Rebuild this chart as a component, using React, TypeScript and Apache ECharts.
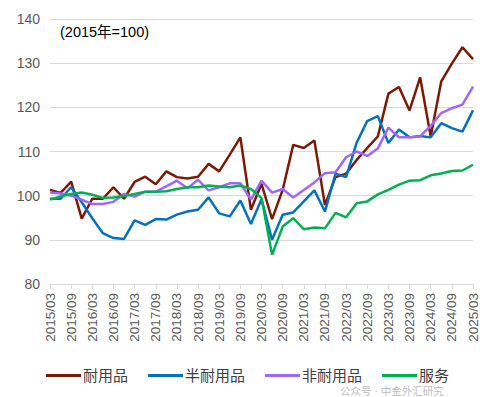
import React, { useEffect, useRef } from "react";
import * as echarts from "echarts";

const quarters: string[] = [];
for (let y = 2015; y <= 2025; y++) {
  for (const m of ["03", "06", "09", "12"]) {
    if (y === 2025 && m !== "03") continue;
    quarters.push(`${y}/${m}`);
  }
}

const durable = [
  101.3, 100.6, 103.2, 94.8, 99.3, 99.3, 101.9, 99.3, 103.1, 104.3, 102.6,
  105.5, 104.2, 103.9, 104.3, 107.2, 105.5, 109.3, 113.2, 96.8, 102.7, 94.7,
  101.3, 111.5, 110.8, 112.5, 97.9, 104.2, 105.0, 108.1, 110.8, 113.4, 123.1,
  124.6, 119.3, 126.8, 113.4, 125.9, 129.9, 133.6, 130.9,
];
const semiDurable = [
  99.3, 99.3, 101.9, 98.5, 94.9, 91.5, 90.4, 90.2, 94.4, 93.4, 94.7, 94.6,
  95.7, 96.4, 96.8, 99.6, 96.0, 95.3, 98.9, 93.6, 99.2, 90.0, 95.7, 96.2, 98.7,
  101.2, 96.4, 105.0, 104.2, 112.0, 116.9, 118.0, 111.9, 115.0, 113.2, 113.5,
  113.2, 116.4, 115.3, 114.5, 119.3,
];
const nonDurable = [
  100.7, 100.5, 100.0, 99.1, 98.1, 98.1, 98.6, 100.4, 99.8, 100.9, 100.9,
  102.1, 103.4, 101.7, 103.6, 101.2, 101.9, 102.8, 102.8, 99.1, 103.4, 100.7,
  101.5, 99.6, 101.3, 103.0, 105.1, 105.3, 108.7, 110.0, 109.0, 110.7, 115.4,
  113.2, 113.2, 113.4, 115.8, 118.7, 119.8, 120.6, 124.7,
];
const services = [
  99.1, 99.8, 100.4, 100.7, 100.2, 99.5, 99.6, 99.9, 100.4, 100.9, 100.9,
  101.0, 101.5, 101.9, 101.9, 102.3, 102.1, 101.9, 102.3, 101.5, 99.5, 86.6,
  93.0, 94.9, 92.4, 92.8, 92.6, 96.1, 95.1, 98.3, 98.7, 100.3, 101.3, 102.5,
  103.4, 103.5, 104.6, 105.0, 105.6, 105.7, 107.0,
];

const seriesNames = ["耐用品", "半耐用品", "非耐用品", "服务"];
const seriesColors = ["#7a1a05", "#0070c0", "#a066ff", "#00b050"];
const titleText = "(2015年=100)";
const watermark = "公众号 · 中金外汇研究";

const FONT = "'Liberation Sans', 'Noto Sans CJK SC', sans-serif";

export default function App() {
  const ref = useRef<HTMLDivElement>(null);
  useEffect(() => {
    if (!ref.current) return;
    const chart = echarts.init(ref.current, undefined, { renderer: "svg" });
    const data = [durable, semiDurable, nonDurable, services];
    chart.setOption({
      animation: false,
      textStyle: { fontFamily: FONT },
      grid: { left: 50, right: 22, top: 19, bottom: 113 },
      graphic: [
        {
          type: "text",
          left: 60,
          top: 25,
          style: { text: titleText, fontSize: 14.5, fill: "#000", fontFamily: FONT },
        },
        {
          type: "text",
          left: 340,
          top: 386,
          z: 100,
          style: {
            text: watermark,
            fontSize: 10.5,
            fill: "rgba(140,140,140,0.6)",
            fontFamily: FONT,
          },
        },
      ],
      legend: {
        bottom: 9,
        left: "center",
        itemWidth: 35,
        itemHeight: 3,
        itemGap: 20,
        icon: "rect",
        textStyle: { fontSize: 15, color: "#404040", fontFamily: FONT, padding: [0, 0, 0, -3] },
        data: seriesNames,
      },
      xAxis: {
        type: "category",
        data: quarters,
        boundaryGap: false,
        axisLine: { lineStyle: { color: "#d9d9d9", width: 1 } },
        axisTick: { interval: 1, length: 5, lineStyle: { color: "#d9d9d9" } },
        axisLabel: {
          interval: 1,
          rotate: 90,
          fontSize: 13.5,
          color: "#595959",
          margin: 9,
          fontFamily: FONT,
        },
        splitLine: { show: false },
      },
      yAxis: {
        type: "value",
        min: 80,
        max: 140,
        interval: 10,
        axisLine: { show: false },
        axisTick: { show: false },
        axisLabel: { fontSize: 14, color: "#595959", margin: 10, fontFamily: FONT },
        splitLine: { lineStyle: { color: "#d9d9d9", width: 1 } },
      },
      series: seriesNames.map((name, i) => ({
        name,
        type: "line",
        data: data[i],
        symbol: "none",
        color: seriesColors[i],
        lineStyle: { width: 2.5, color: seriesColors[i] },
        z: i === 3 ? 5 : 2 + i,
      })),
    });
    return () => chart.dispose();
  }, []);
  return (
    <div
      ref={ref}
      style={{ position: "fixed", left: 0, top: 0, width: 495, height: 397, background: "#fff" }}
    />
  );
}
